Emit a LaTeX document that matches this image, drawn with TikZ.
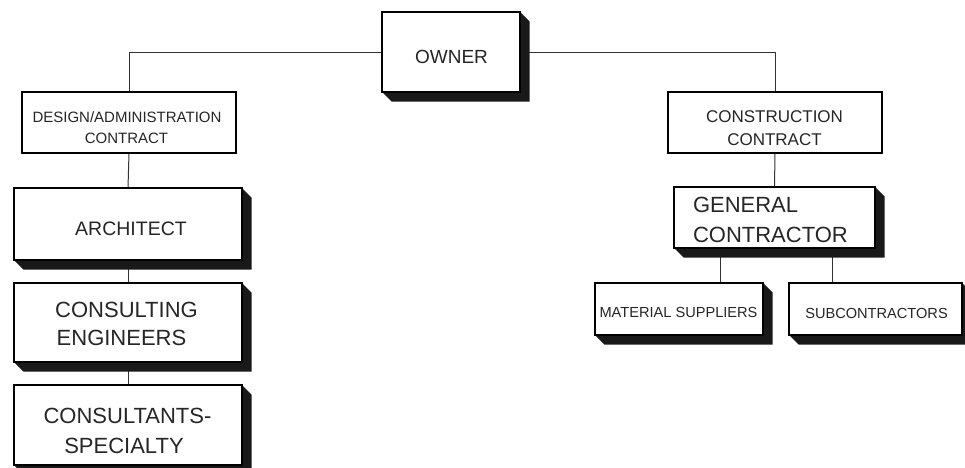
\documentclass[tikz,border=0pt]{standalone}
\usepackage{fontspec}
\setmainfont{Liberation Sans}
\usetikzlibrary{backgrounds}
\tikzset{
  box/.style={draw=black, line width=1.7pt, fill=white, rectangle, outer sep=0pt, inner sep=0pt},
  conn/.style={draw=black!80, line width=1pt},
  lbl/.style={anchor=base, inner sep=0pt, outer sep=0pt, text=black!85},
  lbll/.style={anchor=base west, inner sep=0pt, outer sep=0pt, text=black!85},
}
\newcommand{\boxshadow}[2][9.5pt]{%
  \fill[black!90] (#2.south west) -- ([shift={(#1,-#1)}]#2.south west)
    -- ([shift={(#1,-#1)}]#2.south east) -- ([shift={(#1,-#1)}]#2.north east)
    -- (#2.north east) -- (#2.south east) -- cycle;}
\newcommand{\fs}[1]{\fontsize{#1}{#1}\selectfont}
\begin{document}
\begin{tikzpicture}[x=1pt,y=-1pt]
\useasboundingbox (0,0) rectangle (965,467);
% boxes
\node[box, minimum width=138pt, minimum height=80pt] (owner) at (451,52) {};
\node[box, minimum width=214pt, minimum height=61pt] (design) at (129,122.5) {};
\node[box, minimum width=228pt, minimum height=72pt] (arch) at (128,224) {};
\node[box, minimum width=228pt, minimum height=79pt] (cons) at (128,322.5) {};
\node[box, minimum width=228pt, minimum height=80pt] (spec) at (128,425) {};
\node[box, minimum width=214pt, minimum height=61pt] (constr) at (775,122.5) {};
\node[box, minimum width=201pt, minimum height=61pt] (gc) at (774.5,217.5) {};
\node[box, minimum width=168pt, minimum height=52pt] (mat) at (679,309) {};
\node[box, minimum width=173pt, minimum height=52pt] (sub) at (875.5,309) {};
% texts
\node[lbl, font=\fs{19}] (towner) at (451.5,63) {OWNER};
\node[lbl, font=\fs{15}] (tdes1) at (127,122) {DESIGN/ADMINISTRATION};
\node[lbl, font=\fs{15}] (tdes2) at (126.5,143) {CONTRACT};
\node[lbl, font=\fs{19.5}] (tarch) at (131,235) {ARCHITECT};
\node[lbl, font=\fs{22}] (tcons1) at (126.5,317) {CONSULTING};
\node[lbl, font=\fs{22}] (tcons2) at (121.5,345) {ENGINEERS};
\node[lbl, font=\fs{22}] (tspec1) at (127.5,423) {CONSULTANTS-};
\node[lbl, font=\fs{22}] (tspec2) at (124,453) {SPECIALTY};
\node[lbl, font=\fs{17}] (tcon1) at (774.5,122) {CONSTRUCTION};
\node[lbl, font=\fs{17}] (tcon2) at (774.5,145) {CONTRACT};
\node[lbll, font=\fs{22}] (tgc1) at (693,212) {GENERAL};
\node[lbll, font=\fs{22}] (tgc2) at (693,242) {CONTRACTOR};
\node[lbl, font=\fs{14.6}] (tmat) at (678.5,317) {MATERIAL SUPPLIERS};
\node[lbl, font=\fs{14.6}] (tsub) at (876.5,318) {SUBCONTRACTORS};
% connectors and shadows behind
\begin{pgfonlayer}{background}
\draw[conn] (owner.west) -| (design.north);
\draw[conn] (owner.east) -| (constr.north);
\draw[conn] (design.south) -- (arch.north);
\draw[conn] (arch.south) -- (cons.north);
\draw[conn] (cons.south) -- (spec.north);
\draw[conn] (constr.south) -- (gc.north);
\coordinate (gcm) at (720,248);
\coordinate (gcs) at (832,248);
\draw[conn] (gcm) -- (gcm |- mat.north);
\draw[conn] (gcs) -- (gcs |- sub.north);
\boxshadow{owner}
\boxshadow{arch}
\boxshadow{cons}
\boxshadow{spec}
\boxshadow{gc}
\boxshadow{mat}
\boxshadow{sub}
\end{pgfonlayer}
\end{tikzpicture}
\end{document}
